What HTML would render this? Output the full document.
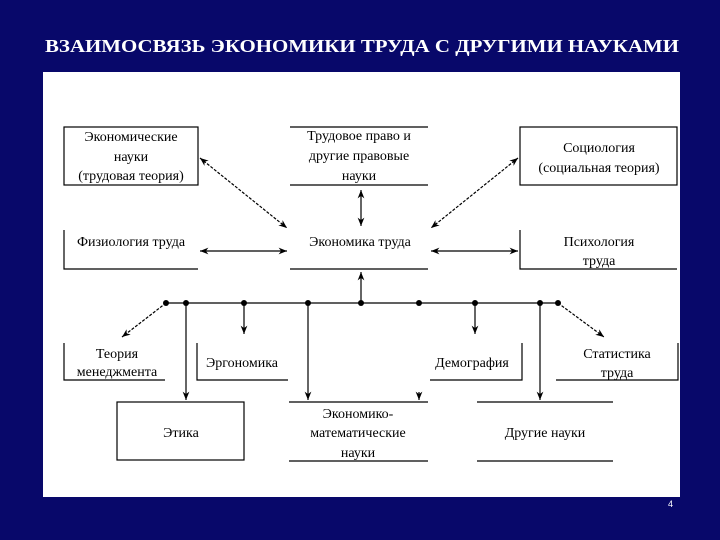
<!DOCTYPE html>
<html><head><meta charset="utf-8"><style>
html,body{margin:0;padding:0;background:#08086a;}
svg{display:block}
</style></head><body>
<svg width="720" height="540" xmlns="http://www.w3.org/2000/svg" font-family="Liberation Serif, Noto Serif CJK SC, serif">
<defs>
<marker id="a" viewBox="0 0 10 10" refX="10" refY="5" markerWidth="7" markerHeight="7" orient="auto-start-reverse"><path d="M0,1 L10,5 L0,9 L3,5 z" fill="#000"/></marker>
</defs>
<rect width="720" height="540" fill="#08086a"/>
<text x="362" y="52" text-anchor="middle" fill="#fff" font-weight="bold" font-size="17.5" textLength="634" lengthAdjust="spacingAndGlyphs">ВЗАИМОСВЯЗЬ ЭКОНОМИКИ ТРУДА С ДРУГИМИ НАУКАМИ</text>
<rect x="43" y="72" width="637" height="425" fill="#fff"/>
<g stroke="#000" stroke-width="1.2" fill="none">
<rect x="64" y="127" width="134" height="58"/>
<line x1="290" y1="127" x2="428" y2="127"/><line x1="290" y1="185" x2="428" y2="185"/>
<rect x="520" y="127" width="157" height="58"/>
<polyline points="64,230 64,269 198,269"/>
<line x1="290" y1="269" x2="428" y2="269"/>
<polyline points="520,230 520,269 677,269"/>
<line x1="361" y1="190" x2="361" y2="226" marker-start="url(#a)" marker-end="url(#a)"/>
<line x1="200" y1="158" x2="287" y2="228" stroke-dasharray="3,1.5" marker-start="url(#a)" marker-end="url(#a)"/>
<line x1="200" y1="251" x2="287" y2="251" marker-start="url(#a)" marker-end="url(#a)"/>
<line x1="518" y1="158" x2="431" y2="228" stroke-dasharray="3,1.5" marker-start="url(#a)" marker-end="url(#a)"/>
<line x1="518" y1="251" x2="431" y2="251" marker-start="url(#a)" marker-end="url(#a)"/>
<line x1="361" y1="303" x2="361" y2="272" marker-end="url(#a)"/>
<line x1="166" y1="303" x2="558" y2="303"/>
<line x1="166" y1="303" x2="122" y2="337" stroke-dasharray="3,1.5" marker-end="url(#a)"/>
<line x1="186" y1="303" x2="186" y2="400" marker-end="url(#a)"/>
<line x1="244" y1="303" x2="244" y2="334" marker-end="url(#a)"/>
<line x1="308" y1="303" x2="308" y2="400" marker-end="url(#a)"/>
<line x1="419" y1="392" x2="419" y2="400" marker-end="url(#a)"/>
<line x1="475" y1="303" x2="475" y2="334" marker-end="url(#a)"/>
<line x1="540" y1="303" x2="540" y2="400" marker-end="url(#a)"/>
<line x1="558" y1="303" x2="604" y2="337" stroke-dasharray="3,1.5" marker-end="url(#a)"/>
<polyline points="64,343 64,380 165,380"/>
<polyline points="197,343 197,380 288,380"/>
<polyline points="430,380 522,380 522,343"/>
<polyline points="556,380 678,380 678,343"/>
<rect x="117" y="402" width="127" height="58"/>
<line x1="289" y1="402" x2="428" y2="402"/><line x1="289" y1="461" x2="428" y2="461"/>
<line x1="477" y1="402" x2="613" y2="402"/><line x1="477" y1="461" x2="613" y2="461"/>
</g>
<g fill="#000">
<circle cx="166" cy="303" r="3"/><circle cx="186" cy="303" r="3"/><circle cx="244" cy="303" r="3"/><circle cx="308" cy="303" r="3"/><circle cx="361" cy="303" r="3"/><circle cx="419" cy="303" r="3"/><circle cx="475" cy="303" r="3"/><circle cx="540" cy="303" r="3"/><circle cx="558" cy="303" r="3"/>
</g>
<g font-size="14" text-anchor="middle" fill="#000">
<text x="131" y="141">Экономические</text><text x="131" y="161">науки</text><text x="131" y="180">(трудовая теория)</text>
<text x="359" y="140">Трудовое  право и</text><text x="359" y="160">другие правовые</text><text x="359" y="180">науки</text>
<text x="599" y="152">Социология</text><text x="599" y="172">(социальная теория)</text>
<text x="131" y="246">Физиология труда</text>
<text x="360" y="246">Экономика труда</text>
<text x="599" y="246">Психология</text><text x="599" y="265">труда</text>
<text x="117" y="358">Теория</text><text x="117" y="376">менеджмента</text>
<text x="242" y="367">Эргономика</text>
<text x="472" y="367">Демография</text>
<text x="617" y="358">Статистика</text><text x="617" y="377">труда</text>
<text x="181" y="437">Этика</text>
<text x="358" y="418">Экономико-</text><text x="358" y="437">математические</text><text x="358" y="457">науки</text>
<text x="545" y="437">Другие науки</text>
</g>
<text x="668" y="507" font-size="9" fill="#fff" font-family="Liberation Sans, sans-serif">4</text>
</svg>
</body></html>
